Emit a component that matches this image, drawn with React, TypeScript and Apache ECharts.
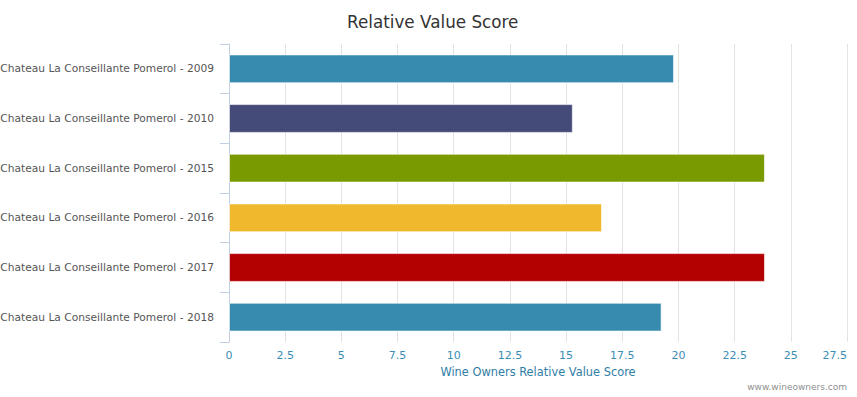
import React, { useEffect, useRef } from "react";
import * as echarts from "echarts";

const categories = [
  "Chateau La Conseillante Pomerol - 2009",
  "Chateau La Conseillante Pomerol - 2010",
  "Chateau La Conseillante Pomerol - 2015",
  "Chateau La Conseillante Pomerol - 2016",
  "Chateau La Conseillante Pomerol - 2017",
  "Chateau La Conseillante Pomerol - 2018",
];
const values = [19.8, 15.3, 23.85, 16.6, 23.85, 19.25];
const barColors = ["#368bae", "#444b78", "#7a9a01", "#f0b92d", "#b30000", "#368bae"];
const xTicks = { min: 0, max: 27.5, interval: 2.5 };
const titleText = "Relative Value Score";
const axisName = "Wine Owners Relative Value Score";
const creditText = "www.wineowners.com";

const FONT = "DejaVu Sans";

export default function App() {
  const ref = useRef<HTMLDivElement>(null);
  useEffect(() => {
    if (!ref.current) return;
    const chart = echarts.init(ref.current, undefined, { renderer: "svg" });
    chart.setOption({
      animation: false,
      backgroundColor: "#ffffff",
      textStyle: { fontFamily: FONT },
      title: {
        text: titleText,
        left: 342,
        top: 8,
        textStyle: { fontFamily: FONT, fontSize: 16.8, fontWeight: "normal", color: "#333333" },
      },
      graphic: [
        {
          type: "text",
          right: 10,
          bottom: 6,
          style: { text: creditText, fontFamily: FONT, fontSize: 9, fill: "#909090" },
        },
      ],
      grid: { left: 229, right: 10, top: 44, bottom: 55, containLabel: false, outerBoundsMode: "none" },
      xAxis: {
        type: "value",
        min: xTicks.min,
        max: xTicks.max,
        interval: xTicks.interval,
        name: axisName,
        nameLocation: "middle",
        nameGap: 24,
        nameTextStyle: { color: "#2f7ea6", fontSize: 11.4, fontFamily: FONT },
        axisLine: { show: false },
        axisTick: { show: false },
        axisLabel: { color: "#3b8db5", fontSize: 11, margin: 8, fontFamily: FONT, alignMaxLabel: "right" },
        splitLine: { show: true, lineStyle: { color: "#e3e3e3", width: 1 } },
      },
      yAxis: {
        type: "category",
        data: categories,
        inverse: true,
        axisLine: { show: true, lineStyle: { color: "#c0d0e0", width: 1 } },
        axisTick: { show: true, length: 9, lineStyle: { color: "#c0d0e0" } },
        axisLabel: { color: "#555555", fontSize: 10.65, margin: 15, fontFamily: FONT },
        splitLine: { show: false },
      },
      series: [
        {
          type: "bar",
          data: values.map((v, i) => ({
            value: v,
            itemStyle: { color: barColors[i], borderColor: "rgba(255,255,255,0.6)", borderWidth: 1 },
          })),
          barWidth: "58%",
        },
      ],
    });
    return () => chart.dispose();
  }, []);
  return <div ref={ref} style={{ width: 857, height: 397, position: "absolute", left: 0, top: 0 }} />;
}
